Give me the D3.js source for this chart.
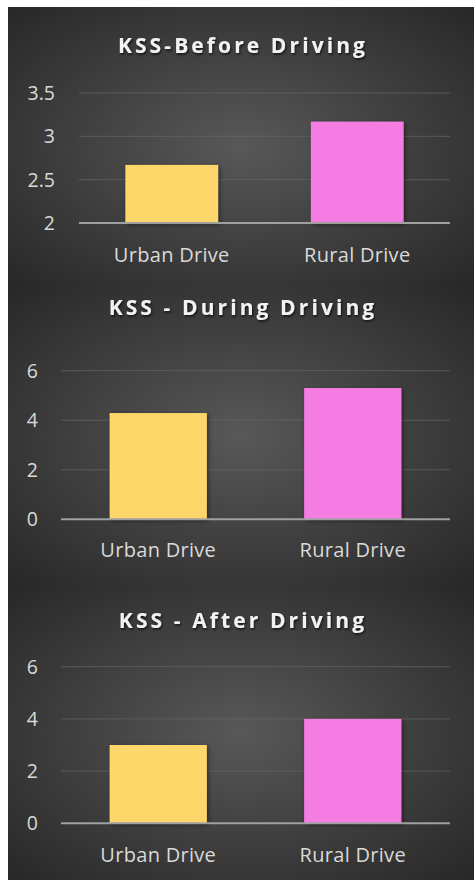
<!DOCTYPE html>
<html>
<head>
<meta charset="utf-8">
<script src="https://cdn.jsdelivr.net/npm/d3@7"></script>
<style>
  html, body { margin: 0; padding: 0; background: #ffffff; }
  svg { display: block; }
</style>
</head>
<body>
<div id="chart"></div>
<script>
// ---------- data ----------
const categories = ["Urban Drive", "Rural Drive"];
const beforeValues = [2.67, 3.17];
const duringValues = [4.29, 5.30];
const afterValues = [3.0, 4.0];
const titles = ["KSS-Before Driving", "KSS - During Driving", "KSS - After Driving"];
const beforeTicks = [2, 2.5, 3, 3.5];
const duringTicks = [0, 2, 4, 6];
const afterTicks = [0, 2, 4, 6];
const barColors = ["#FDD76A", "#F47BE3"];

// ---------- layout ----------
const W = 474, H = 881;
const svg = d3.select("#chart").append("svg").attr("width", W).attr("height", H);
const defs = svg.append("defs");

const sh = defs.append("filter").attr("id", "barShadow")
  .attr("x", "-20%").attr("y", "-20%").attr("width", "140%").attr("height", "140%");
sh.append("feDropShadow").attr("dx", 1.5).attr("dy", 1.5).attr("stdDeviation", 2)
  .attr("flood-color", "#000").attr("flood-opacity", 0.45);

const tsh = defs.append("filter").attr("id", "titleShadow")
  .attr("x", "-10%").attr("y", "-30%").attr("width", "120%").attr("height", "160%");
tsh.append("feDropShadow").attr("dx", 1).attr("dy", 1.5).attr("stdDeviation", 1.2)
  .attr("flood-color", "#000").attr("flood-opacity", 0.7);

const panels = [
  { title: titles[0], values: beforeValues, ticks: beforeTicks, domain: [2, 3.5],
    top: 7, bottom: 287, x0: 79, x1: 450, y0: 223, y1: 93, titleY: 53, labelY: 262, tickX: 55 },
  { title: titles[1], values: duringValues, ticks: duringTicks, domain: [0, 6],
    top: 287, bottom: 585, x0: 61, x1: 450, y0: 519.3, y1: 370.7, titleY: 315, labelY: 557, tickX: 38 },
  { title: titles[2], values: afterValues, ticks: afterTicks, domain: [0, 6],
    top: 585, bottom: 880, x0: 61, x1: 450, y0: 823.3, y1: 666.7, titleY: 628, labelY: 862, tickX: 38 }
];

panels.forEach((p, i) => {
  const gid = "bg" + i;
  const g = defs.append("radialGradient").attr("id", gid)
    .attr("cx", "50%").attr("cy", "50%").attr("r", "70%");
  g.append("stop").attr("offset", "0%").attr("stop-color", "#585858");
  g.append("stop").attr("offset", "100%").attr("stop-color", "#282828");

  svg.append("rect").attr("x", 8).attr("y", p.top)
    .attr("width", W - 8).attr("height", p.bottom - p.top)
    .attr("fill", `url(#${gid})`);

  const x = d3.scaleBand().domain(categories).range([p.x0, p.x1])
    .paddingInner(0.5).paddingOuter(0.25);
  const y = d3.scaleLinear().domain(p.domain).range([p.y0, p.y1]);

  // gridlines
  svg.append("g").selectAll("line").data(p.ticks.slice(1)).join("line")
    .attr("x1", p.x0).attr("x2", p.x1)
    .attr("y1", d => y(d)).attr("y2", d => y(d))
    .attr("stroke", "#666").attr("stroke-opacity", 0.7).attr("stroke-width", 1);

  // bars
  svg.append("g").selectAll("rect").data(p.values).join("rect")
    .attr("x", (d, j) => x(categories[j]))
    .attr("width", x.bandwidth())
    .attr("y", d => y(d))
    .attr("height", d => y(p.domain[0]) - y(d))
    .attr("fill", (d, j) => barColors[j])
    .attr("filter", "url(#barShadow)");

  // axis baseline
  svg.append("line").attr("x1", p.x0).attr("x2", p.x1)
    .attr("y1", y(p.domain[0])).attr("y2", y(p.domain[0]))
    .attr("stroke", "#a0a0a0").attr("stroke-width", 2);

  // y tick labels
  svg.append("g").selectAll("text").data(p.ticks).join("text")
    .attr("x", p.tickX).attr("y", d => y(d)).attr("dy", "0.36em")
    .attr("text-anchor", "end")
    .attr("font-family", "Open Sans, sans-serif").attr("font-size", 19.5)
    .attr("fill", "#d9d9d9")
    .text(d => d);

  // category labels
  svg.append("g").selectAll("text").data(categories).join("text")
    .attr("x", d => x(d) + x.bandwidth() / 2).attr("y", p.labelY)
    .attr("text-anchor", "middle")
    .attr("font-family", "Open Sans, sans-serif").attr("font-size", 20)
    .attr("letter-spacing", 0.3)
    .attr("fill", "#d9d9d9")
    .text(d => d);

  // title
  svg.append("text").attr("x", 243).attr("y", p.titleY)
    .attr("text-anchor", "middle")
    .attr("font-family", "Open Sans, sans-serif").attr("font-weight", "bold")
    .attr("font-size", 21).attr("letter-spacing", 3.1)
    .attr("fill", "#f2f2f2").attr("filter", "url(#titleShadow)")
    .text(p.title);
});
</script>
</body>
</html>
